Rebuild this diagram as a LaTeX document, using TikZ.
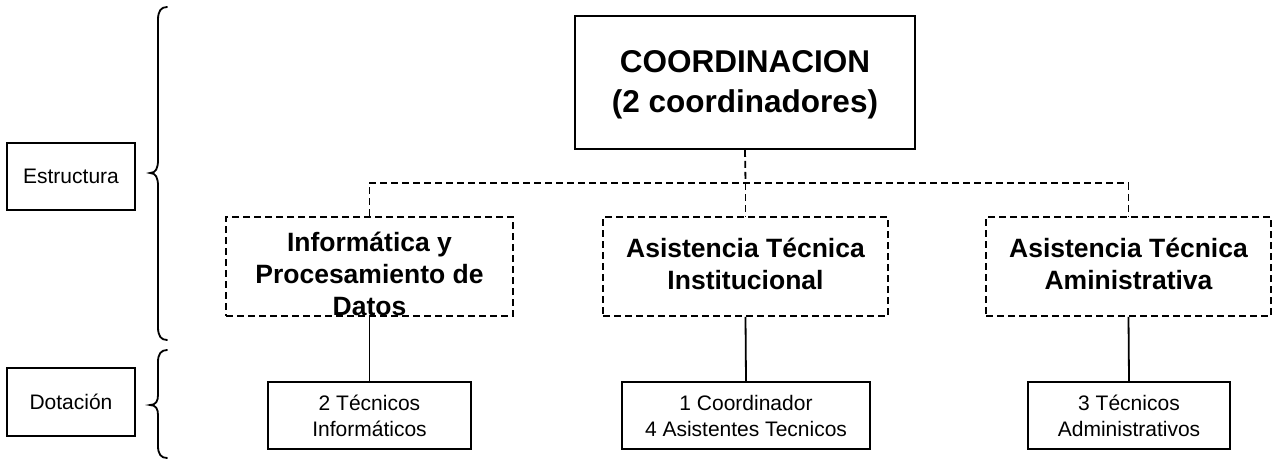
\documentclass[tikz,border=0pt]{standalone}
\usepackage{fontspec}
\setmainfont{Liberation Sans}
\begin{document}
\begin{tikzpicture}[x=1pt,y=-1pt,
  box/.style={draw, line width=1.8pt, inner sep=0pt},
  dbox/.style={draw, line width=1.8pt, dash pattern=on 7pt off 4pt, inner sep=0pt},
  dline/.style={line width=1.8pt, dash pattern=on 7pt off 4pt},
  sline/.style={line width=1.8pt},
  bigtxt/.style={font=\fontsize{31.5}{40}\selectfont\bfseries, align=center, inner sep=0pt},
  midtxt/.style={font=\fontsize{26.5}{32}\selectfont\bfseries, align=center, inner sep=0pt},
  smalltxt/.style={font=\fontsize{21}{26}\selectfont, align=center},
  brace/.style={line width=1.8pt, line cap=round}
]
\useasboundingbox (0,0) rectangle (1276,460);

% left labels
\node[box, smalltxt, minimum width=128pt, minimum height=67pt] (est) at (71,176.5) {Estructura};
\node[box, smalltxt, minimum width=128pt, minimum height=68pt] (dot) at (71,402) {Dotación};

% braces
\draw[brace] (167,7) .. controls (161,7) and (158,11) .. (158,20) -- (158,160)
  .. controls (158,168) and (156,173) .. (150,173)
  .. controls (156,173) and (158,178) .. (158,186) -- (158,327)
  .. controls (158,336) and (161,340) .. (167,340);
\draw[brace] (167,350) .. controls (161,350) and (158,354) .. (158,362) -- (158,395)
  .. controls (158,401) and (156,405) .. (150,405)
  .. controls (156,405) and (158,409) .. (158,415) -- (158,446)
  .. controls (158,454) and (161,458) .. (167,458);

% top
\node[box, minimum width=340pt, minimum height=133pt] (coord) at (745,82.5) {};
\node[bigtxt] (coordt) at (745,85) {COORDINACION\\(2 coordinadores)};

% dashed boxes
\node[dbox, minimum width=287pt, minimum height=99pt] (inf) at (369.5,266.5) {};
\node[dbox, minimum width=285pt, minimum height=99pt] (ati) at (745.5,266.5) {};
\node[dbox, minimum width=285pt, minimum height=99pt] (ata) at (1128.5,266.5) {};
\node[midtxt] (inft) at (369.5,274) {Informática y\\Procesamiento de\\Datos};
\node[midtxt] (atit) at (745.5,264) {Asistencia Técnica\\Institucional};
\node[midtxt] (atat) at (1128.5,264) {Asistencia Técnica\\Aministrativa};

% bottom boxes
\node[box, smalltxt, minimum width=203pt, minimum height=67pt] (b1) at (369.5,415.5) {2 Técnicos\\Informáticos};
\node[box, smalltxt, minimum width=248pt, minimum height=67pt] (b2) at (746,415.5) {1 Coordinador\\4 Asistentes Tecnicos};
\node[box, smalltxt, minimum width=202pt, minimum height=67pt] (b3) at (1129,415.5) {3 Técnicos\\Administrativos};

% connectors
\coordinate (hub) at (745.5,183);
\draw[dline] (coord.south) -- (hub);
\draw[dline] (inf.north) |- (hub) -| (ata.north);
\draw[dline] (hub) -- (ati.north);
\draw[sline] (inf.south) -- (b1.north);
\draw[sline] (ati.south) -- (b2.north);
\draw[sline] (ata.south) -- (b3.north);
\end{tikzpicture}
\end{document}
